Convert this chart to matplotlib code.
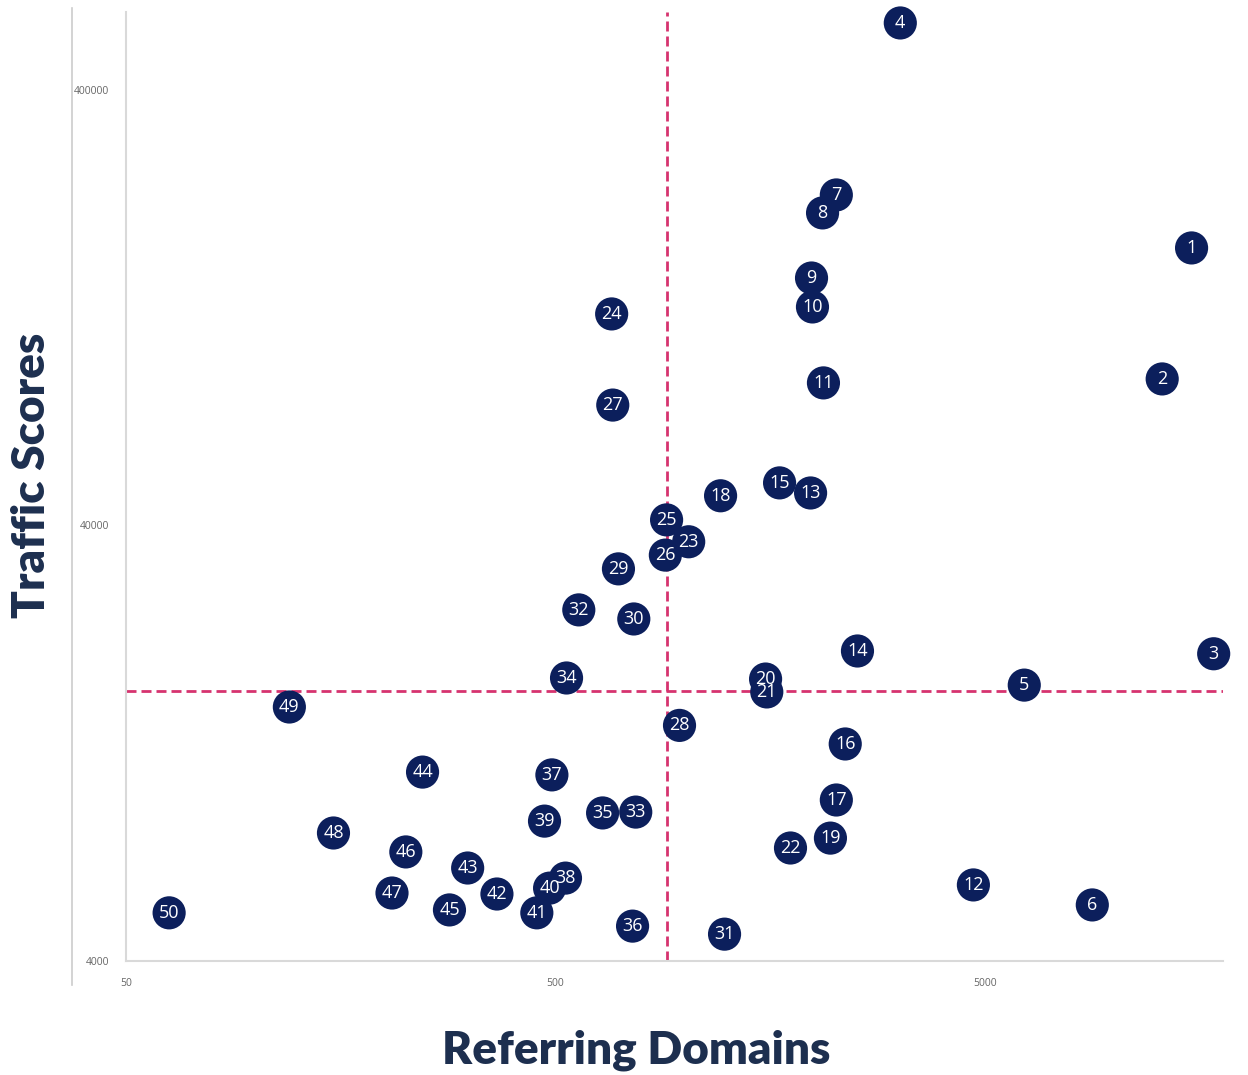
import matplotlib.pyplot as plt
from matplotlib.lines import Line2D

# Point labels and their values
labels = list(range(1, 51))
referring_domains = [
    15100, 12900, 17000, 3170, 6160, 8870, 2250, 2090, 1970, 1980,
    2100, 4690, 1960, 2520, 1660, 2360, 2250, 1210, 2180, 1540,
    1550, 1760, 1020, 675, 906, 900, 679, 971, 700, 760,
    1236, 566, 768, 530, 643, 755, 490, 527, 471, 484,
    452, 365, 312, 245, 283, 224, 208, 152, 120, 63,
]
traffic_scores = [
    173500, 86800, 20300, 570000, 17200, 5380, 229600, 208800, 148000, 127000,
    85000, 5980, 47500, 20600, 50100, 12600, 9370, 46800, 7660, 17760,
    16590, 7270, 36700, 122400, 41200, 34200, 75600, 13900, 31800, 24400,
    4610, 25600, 8790, 17860, 8750, 4810, 10700, 6200, 8380, 5880,
    5160, 5700, 6540, 10860, 5240, 7120, 5730, 7870, 15320, 5160,
]

# quadrant divider values
x_split = 906
y_split = 16680

x_ticks = [50, 500, 5000]
y_ticks = [4000, 40000, 400000]

navy = "#0c1f5c"
label_color = "#1d2f4f"
pink = "#d6336f"

fig = plt.figure(figsize=(12.48, 10.75), dpi=100)
ax = fig.add_axes([126 / 1248, 1 - 961 / 1075, (1223 - 126) / 1248, (961 - 12) / 1075])

ax.set_xscale("log")
ax.set_yscale("log")
ax.set_xlim(50, 17870)
ax.set_ylim(4000, 604000)

# dashed quadrant lines, behind the markers
ax.axvline(x_split, color=pink, lw=2, dashes=(3.6, 1.8), zorder=1)
ax.axhline(y_split, color=pink, lw=2, dashes=(3.6, 1.8), zorder=1)

ax.scatter(referring_domains, traffic_scores, s=570, color=navy,
           edgecolors="none", zorder=2, clip_on=False)
for lab, xv, yv in zip(labels, referring_domains, traffic_scores):
    ax.text(xv, yv, str(lab), color="white", fontsize=13, family="Open Sans",
            ha="center", va="center", zorder=3, clip_on=False)

ax.set_xticks(x_ticks)
ax.set_xticklabels([str(t) for t in x_ticks])
ax.set_yticks(y_ticks)
ax.set_yticklabels([str(t) for t in y_ticks])
ax.minorticks_off()
ax.tick_params(length=0, labelsize=7.5, labelcolor="#666666", pad=12)
for lbl in ax.get_xticklabels() + ax.get_yticklabels():
    lbl.set_family("Open Sans")

for side in ["top", "right"]:
    ax.spines[side].set_visible(False)
for side in ["left", "bottom"]:
    ax.spines[side].set_color("#d9d9d9")
    ax.spines[side].set_linewidth(1.5)

# outer border line on the left
fig.add_artist(Line2D([72 / 1248, 72 / 1248], [1 - 985 / 1075, 1 - 8 / 1075],
                      color="#cccccc", lw=1.2))

fig.text(636 / 1248, 1 - 1050 / 1075, "Referring Domains", ha="center", va="center",
         fontsize=33, fontweight="heavy", family="Lato", color=label_color)
fig.text(32 / 1248, 1 - 475 / 1075, "Traffic Scores", ha="center", va="center",
         rotation=90, fontsize=33, fontweight="heavy", family="Lato", color=label_color)

fig.savefig("out.png", dpi=100)
